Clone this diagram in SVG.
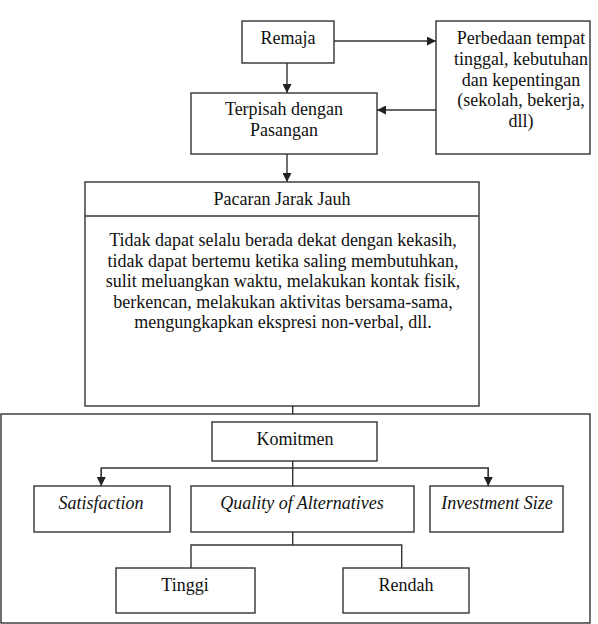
<svg xmlns="http://www.w3.org/2000/svg" width="598" height="624" viewBox="0 0 598 624">
<style>
.box{fill:#fff;stroke:#333;stroke-width:1.4}
.ln{fill:none;stroke:#333;stroke-width:1.4}
text{font-family:"Liberation Serif","Times New Roman",serif;font-size:18px;fill:#111;text-anchor:middle}
.it{font-style:italic}
</style>
<defs>
<marker id="ah" markerUnits="userSpaceOnUse" markerWidth="9" markerHeight="9" refX="9" refY="4.5" orient="auto">
<path d="M0,0 L9,4.5 L0,9 z" fill="#222"/>
</marker>
</defs>
<rect width="598" height="624" fill="#fff"/>
<g id="outer"><rect class="box" x="1" y="414" width="589" height="209"/></g>
<g id="connectors">
<line class="ln" x1="334" y1="41" x2="436" y2="41" marker-end="url(#ah)"/>
<line class="ln" x1="436" y1="110" x2="377" y2="110" marker-end="url(#ah)"/>
<line class="ln" x1="287" y1="63" x2="287" y2="93" marker-end="url(#ah)"/>
<line class="ln" x1="287" y1="154" x2="287" y2="182" marker-end="url(#ah)"/>
<line class="ln" x1="292.7" y1="406" x2="292.7" y2="414"/>
<line class="ln" x1="292.7" y1="461" x2="292.7" y2="486"/>
<polyline class="ln" points="101.3,486 101.3,468 488.3,468 488.3,486"/>
<line class="ln" x1="101.3" y1="468" x2="101.3" y2="486" marker-end="url(#ah)"/>
<line class="ln" x1="488.3" y1="468" x2="488.3" y2="486" marker-end="url(#ah)"/>
<line class="ln" x1="292.7" y1="532" x2="292.7" y2="545"/>
<polyline class="ln" points="191,568 191,545 401.7,545 401.7,568"/>
</g>
<g id="remaja"><rect class="box" x="242" y="21" width="92" height="42"/><text x="288" y="44">Remaja</text></g>
<g id="perbedaan"><rect class="box" x="436" y="21" width="154" height="133"/>
<text x="521" y="44">Perbedaan tempat</text>
<text x="521" y="65">tinggal, kebutuhan</text>
<text x="521" y="85.5">dan kepentingan</text>
<text x="521" y="106">(sekolah, bekerja,</text>
<text x="521" y="126.5">dll)</text></g>
<g id="terpisah"><rect class="box" x="191" y="93" width="186" height="61"/>
<text x="284" y="115">Terpisah dengan</text>
<text x="284" y="136">Pasangan</text></g>
<g id="pacaran"><rect class="box" x="85" y="182" width="394" height="224"/>
<line class="ln" x1="85" y1="216" x2="479" y2="216"/>
<text x="282" y="205">Pacaran Jarak Jauh</text>
<text x="283" y="246">Tidak dapat selalu berada dekat dengan kekasih,</text>
<text x="283" y="266.5">tidak dapat bertemu ketika saling membutuhkan,</text>
<text x="283" y="287">sulit meluangkan waktu, melakukan kontak fisik,</text>
<text x="283" y="307.5">berkencan, melakukan aktivitas bersama-sama,</text>
<text x="283" y="328">mengungkapkan ekspresi non-verbal, dll.</text></g>
<g id="komitmen"><rect class="box" x="212" y="422" width="165" height="39"/><text x="295" y="445">Komitmen</text></g>
<g id="satisfaction"><rect class="box" x="34" y="486" width="136" height="46"/><text class="it" x="101" y="509">Satisfaction</text></g>
<g id="quality"><rect class="box" x="191" y="486" width="223" height="46"/><text class="it" x="302" y="509">Quality of Alternatives</text></g>
<g id="investment"><rect class="box" x="430" y="486" width="133" height="46"/><text class="it" x="497" y="509">Investment Size</text></g>
<g id="tinggi"><rect class="box" x="116" y="568" width="139" height="45"/><text x="185" y="591">Tinggi</text></g>
<g id="rendah"><rect class="box" x="343" y="568" width="126" height="45"/><text x="406" y="591">Rendah</text></g>
</svg>
